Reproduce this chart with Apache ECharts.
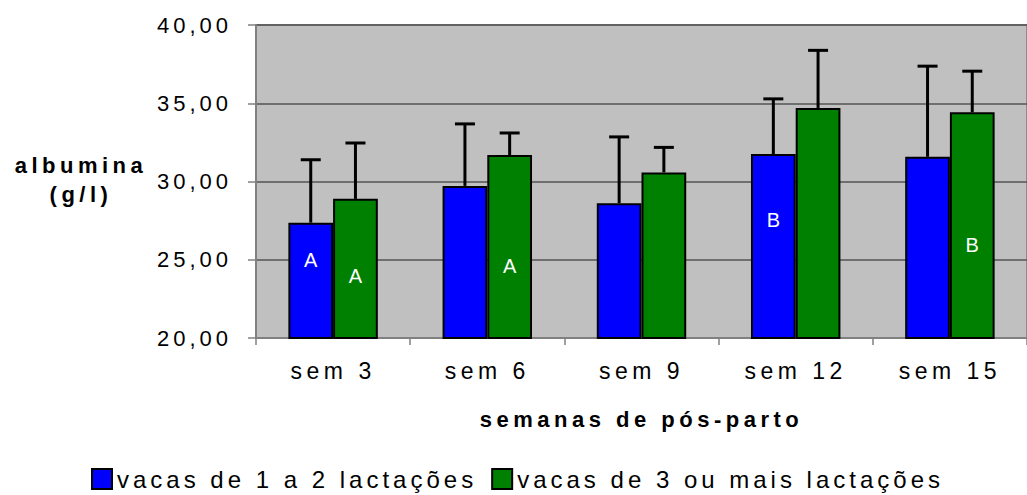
<!DOCTYPE html>
<html>
<head>
<meta charset="utf-8">
<script src="https://cdn.jsdelivr.net/npm/echarts@6/dist/echarts.min.js"></script>
<style>
    html, body { margin: 0; padding: 0; background: #fff; }
    #chart { width: 1027px; height: 495px; }
    /* spaced-out lettering of the original, picked by font size */
    #chart text[style*="22px"] { letter-spacing: 4px; }
    #chart text[style*="23px"] { letter-spacing: 4.5px; }
    #chart text[style*="24px"] { letter-spacing: 4px; }
    #chart text[style*="bold"] { letter-spacing: 4.5px; }
</style>
</head>
<body>
<div id="chart"></div>
<script>
// weeks post-partum
const categories = ['sem 3', 'sem 6', 'sem 9', 'sem 12', 'sem 15'];
const seriesNames = ['vacas de 1 a 2 lactações', 'vacas de 3 ou mais lactações'];

// albumin means (g/l) and standard deviations
const blueMeans = [27.37, 29.72, 28.61, 31.75, 31.58];
const blueErr = [4.02, 3.96, 4.24, 3.53, 5.79];
const greenMeans = [28.89, 31.69, 30.58, 34.70, 34.42];
const greenErr = [3.57, 1.41, 1.60, 3.68, 2.63];

// significance letters and the axis value they sit at
const blueLetters = ['A', '', '', 'B', ''];
const blueLetterAt = [25.0, null, null, 27.56, null];
const greenLetters = ['A', 'A', '', '', 'B'];
const greenLetterAt = [23.97, 24.61, null, null, 25.93];

const yTicks = { min: 20, max: 40, interval: 5 };

const FONT = "'Liberation Sans', Arial, sans-serif";
const CAT_GAP = 0.42;

const chart = echarts.init(document.getElementById('chart'), null, { renderer: 'svg' });

// offset from category centre to the centre of one bar
function barOffset(api, side) {
    const catW = api.size([1, 0])[0];
    const barW = catW * (1 - CAT_GAP) / 2;
    return side * barW / 2;
}

function errorItem(side) {
    return function (params, api) {
        const i = api.value(0);
        const top = api.coord([i, api.value(1) + api.value(2)]);
        const base = api.coord([i, api.value(1)]);
        const x = base[0] + barOffset(api, side);
        const style = { stroke: '#000', lineWidth: 3 };
        return {
            type: 'group',
            children: [
                { type: 'line', shape: { x1: x, y1: base[1], x2: x, y2: top[1] }, style: style },
                { type: 'line', shape: { x1: x - 10, y1: top[1], x2: x + 10, y2: top[1] }, style: style }
            ]
        };
    };
}

function letterItem(side, letters) {
    return function (params, api) {
        const i = api.value(0);
        const p = api.coord([i, api.value(1)]);
        return {
            type: 'text',
            x: p[0] + barOffset(api, side),
            y: p[1],
            style: {
                text: letters[i],
                fill: '#fff',
                font: '20px ' + FONT,
                align: 'center',
                verticalAlign: 'middle'
            }
        };
    };
}

const blueErrData = blueMeans.map((v, i) => [i, v, blueErr[i]]);
const greenErrData = greenMeans.map((v, i) => [i, v, greenErr[i]]);
const blueLetterData = blueLetterAt.map((v, i) => [i, v]).filter(d => d[1] !== null);
const greenLetterData = greenLetterAt.map((v, i) => [i, v]).filter(d => d[1] !== null);

const option = {
    animation: false,
    backgroundColor: '#fff',
    textStyle: { fontFamily: FONT },
    title: {
        text: 'albumina\n(g/l)',
        left: 76,
        top: 146,
        textAlign: 'center',
        textStyle: {
            fontFamily: FONT,
            fontSize: 22,
            fontWeight: 'bold',
            color: '#000',
            lineHeight: 29
        }
    },
    legend: {
        data: seriesNames,
        left: 86,
        top: 462,
        itemWidth: 20,
        itemHeight: 20,
        itemGap: 110,
        icon: 'rect',
        itemStyle: { borderColor: '#000', borderWidth: 2 },
        textStyle: { fontFamily: FONT, fontSize: 24, color: '#000' }
    },
    grid: {
        left: 256,
        right: -7,
        top: 25,
        bottom: 157,
        show: true,
        backgroundColor: '#C0C0C0',
        borderColor: '#8c8c8c',
        borderWidth: 2
    },
    xAxis: {
        type: 'category',
        data: categories,
        boundaryGap: true,
        name: 'semanas de pós-parto',
        nameLocation: 'middle',
        nameGap: 70,
        nameTextStyle: { fontFamily: FONT, fontSize: 22, fontWeight: 'bold', color: '#000' },
        axisLine: { lineStyle: { color: '#808080', width: 2 } },
        axisTick: { show: true, length: 7, lineStyle: { color: '#808080', width: 1.5 } },
        axisLabel: { fontFamily: FONT, fontSize: 23, color: '#000', margin: 21 }
    },
    yAxis: {
        type: 'value',
        min: yTicks.min,
        max: yTicks.max,
        interval: yTicks.interval,
        axisLine: { show: true, lineStyle: { color: '#808080', width: 2 } },
        axisTick: { show: true, length: 8, lineStyle: { color: '#808080', width: 1.5 } },
        axisLabel: {
            fontFamily: FONT,
            fontSize: 22,
            color: '#000',
            margin: 24,
            formatter: v => v.toFixed(2).replace('.', ',')
        },
        splitLine: { lineStyle: { color: '#555', width: 1.5 } }
    },
    series: [
        {
            name: seriesNames[0],
            type: 'bar',
            data: blueMeans,
            barGap: '0%',
            barCategoryGap: (CAT_GAP * 100) + '%',
            itemStyle: { color: '#0000FF', borderColor: '#000', borderWidth: 2 }
        },
        {
            name: seriesNames[1],
            type: 'bar',
            data: greenMeans,
            barGap: '0%',
            barCategoryGap: (CAT_GAP * 100) + '%',
            itemStyle: { color: '#008000', borderColor: '#000', borderWidth: 2 }
        },
        {
            type: 'custom',
            renderItem: errorItem(-1),
            data: blueErrData,
            encode: { x: 0, y: 1 },
            z: 3
        },
        {
            type: 'custom',
            renderItem: errorItem(1),
            data: greenErrData,
            encode: { x: 0, y: 1 },
            z: 3
        },
        {
            type: 'custom',
            renderItem: letterItem(-1, blueLetters),
            data: blueLetterData,
            encode: { x: 0, y: 1 },
            z: 4
        },
        {
            type: 'custom',
            renderItem: letterItem(1, greenLetters),
            data: greenLetterData,
            encode: { x: 0, y: 1 },
            z: 4
        }
    ]
};

chart.setOption(option);
</script>
</body>
</html>
